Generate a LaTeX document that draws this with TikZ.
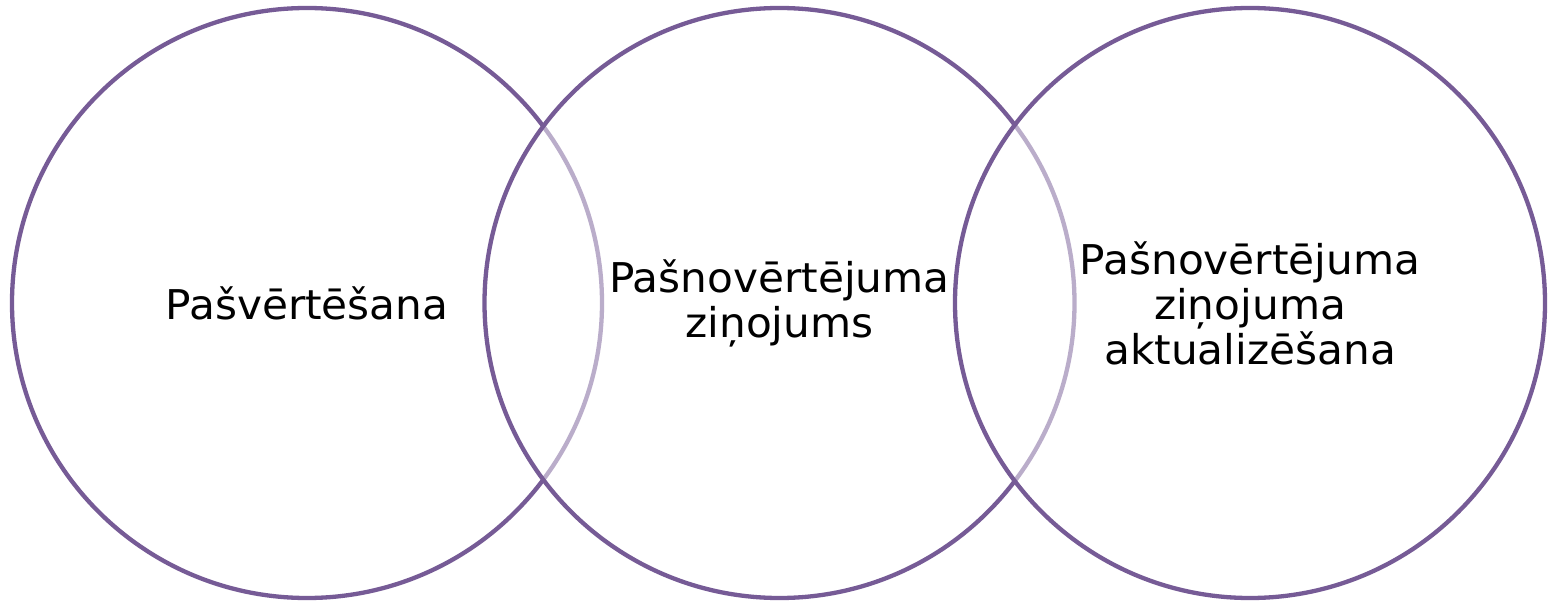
\documentclass[tikz,border=0pt]{standalone}
\usepackage{fontspec}
\setmainfont{DejaVu Sans}[FakeStretch=1.03]
\definecolor{ringc}{RGB}{118,91,150}
\begin{document}
\begin{tikzpicture}[x=1pt,y=-1pt,
  ring/.style={circle,draw=ringc,line width=4.3pt,minimum size=590pt,inner sep=0pt,fill=white},
  label/.style={align=center,font=\fontsize{41}{45}\selectfont,text=black}]
\useasboundingbox (0,0) rectangle (1552,601);
\node[ring] (c1) at (307,303) {};
\node[ring,fill opacity=0.5] (c2) at (779.5,303) {};
\node[ring,fill opacity=0.5] (c3) at (1250,303) {};
\node[label] (t1) at (c1.center) {Pašvērtēšana};
\node[label] (t2) at (c2.center) {Pašnovērtējuma\\ziņojums};
\node[label] (t3) at (c3.center) {Pašnovērtējuma\\ziņojuma\\aktualizēšana};
\end{tikzpicture}
\end{document}
